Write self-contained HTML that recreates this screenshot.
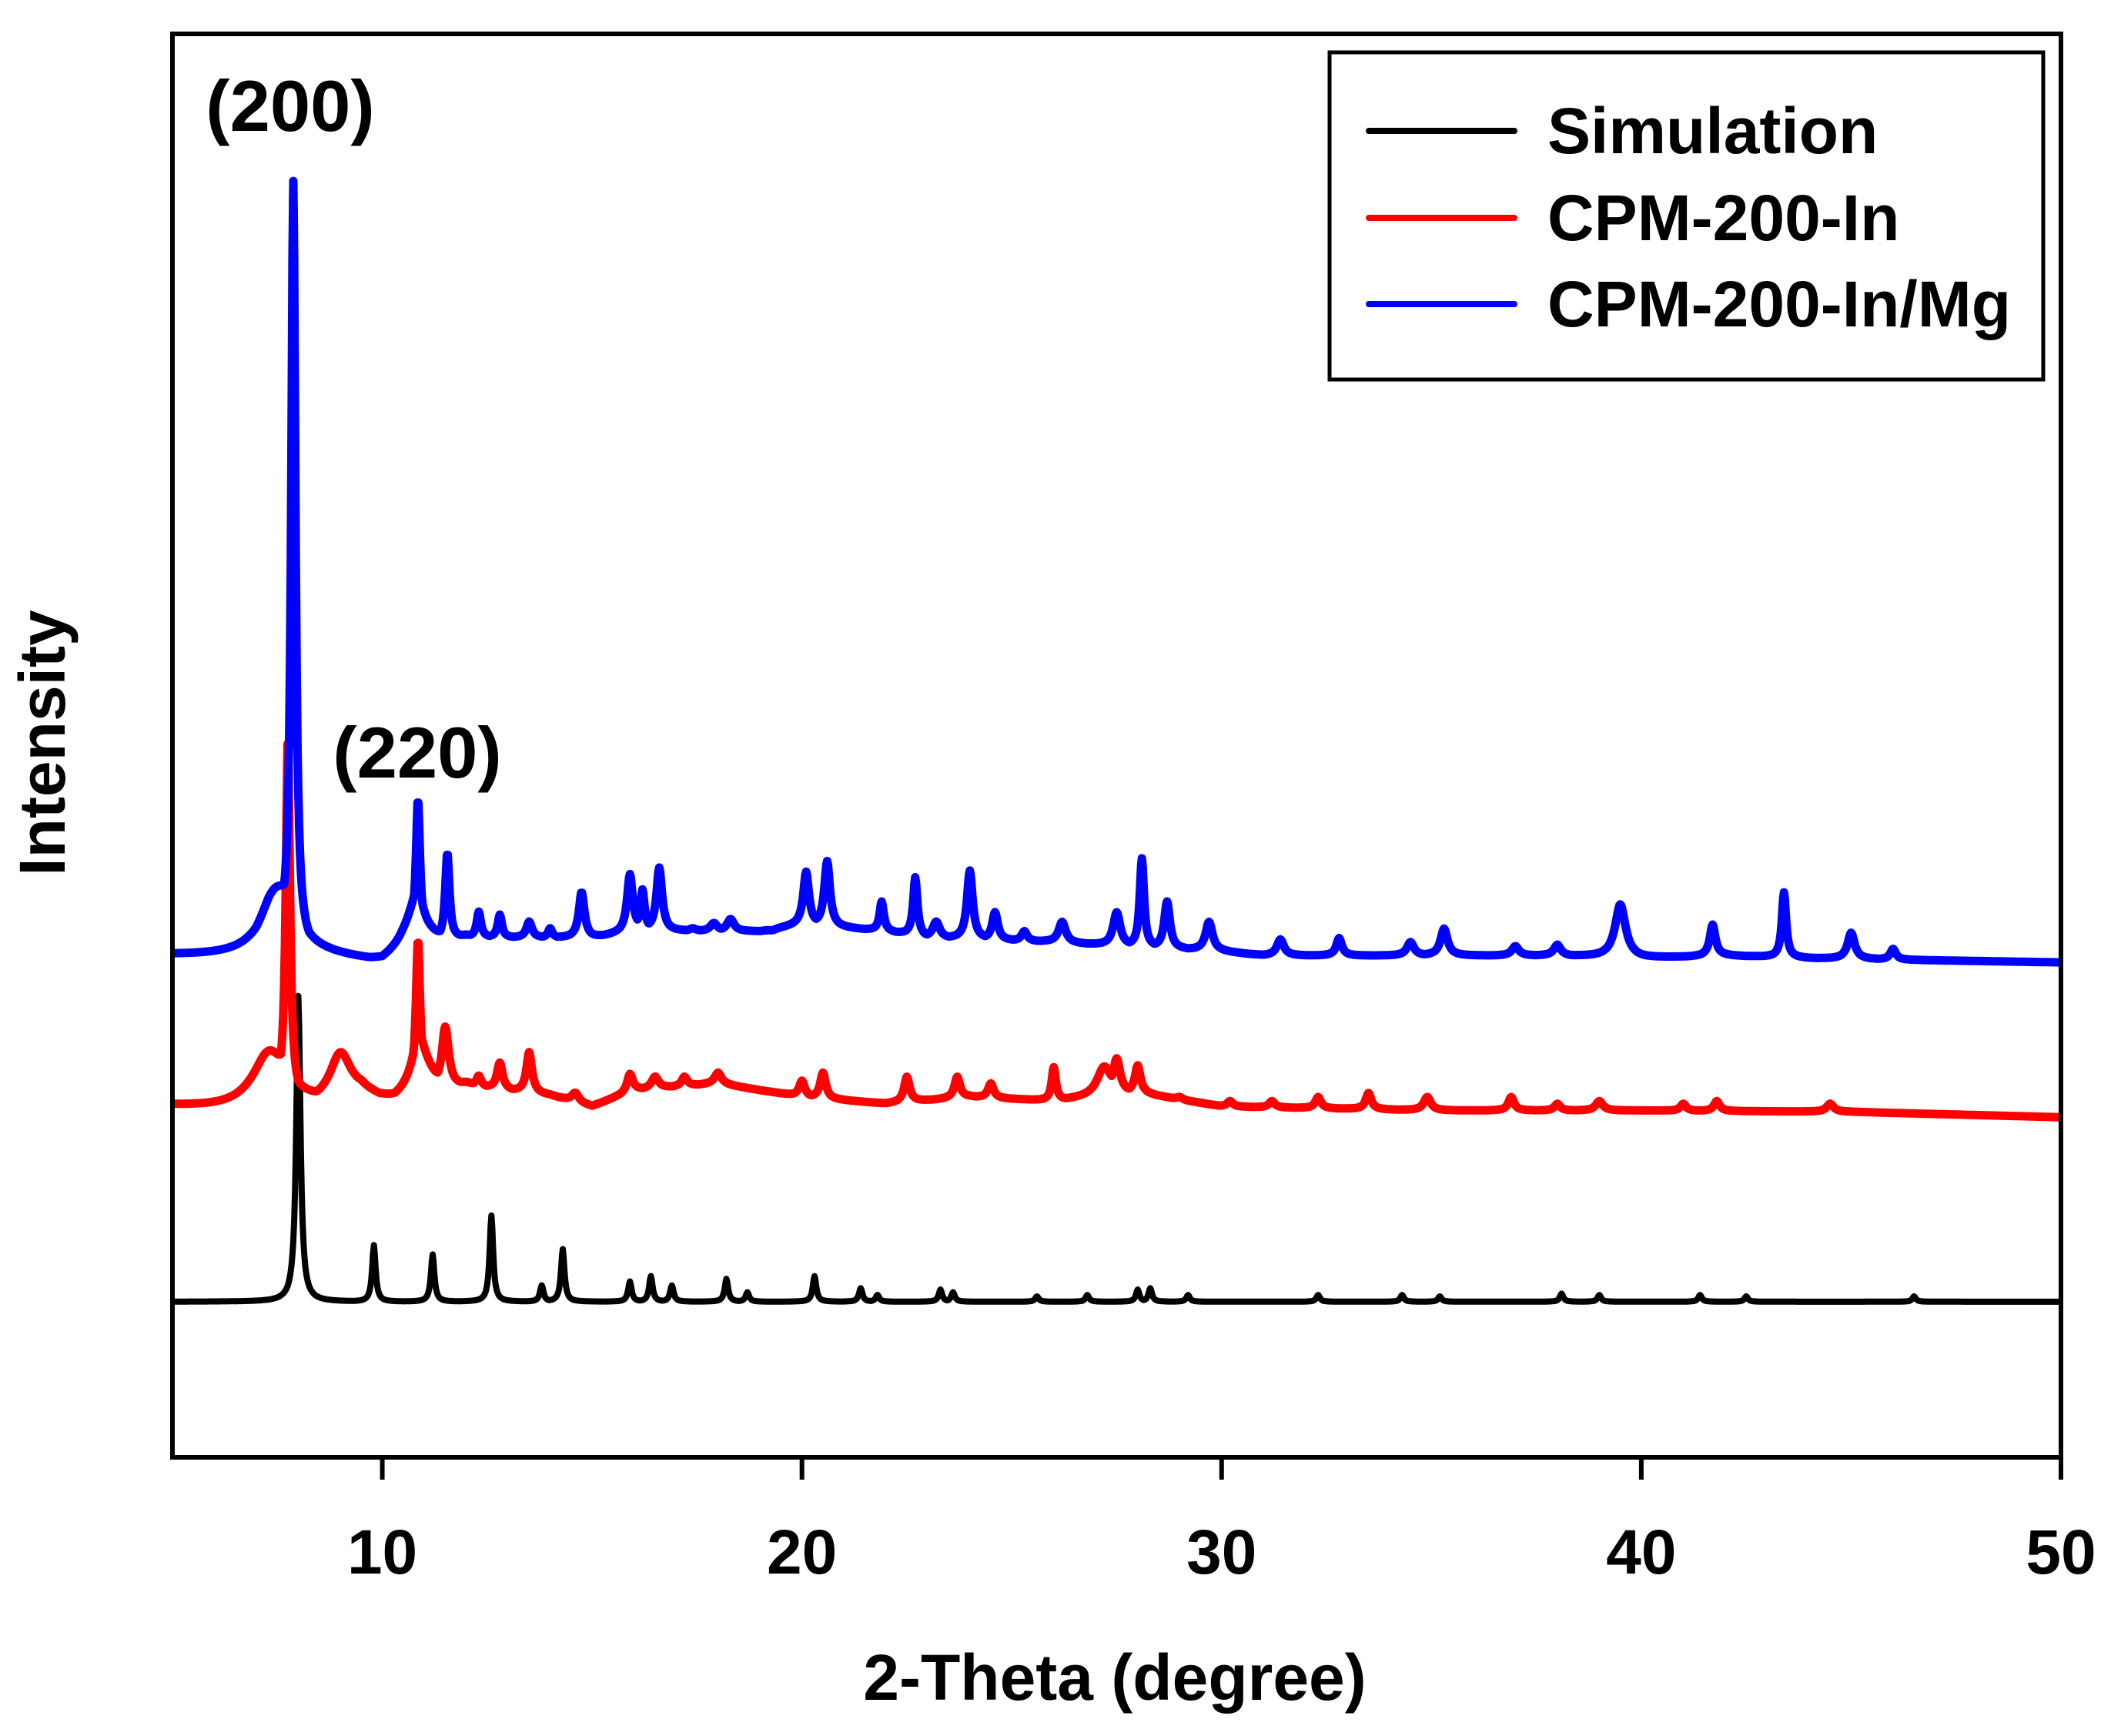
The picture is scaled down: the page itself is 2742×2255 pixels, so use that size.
<!DOCTYPE html>
<html><head><meta charset="utf-8"><style>
html,body{margin:0;padding:0;background:#fff;}
svg{display:block;}
text{font-family:"Liberation Sans",Arial,sans-serif;font-weight:bold;fill:#000;}
</style></head><body>
<svg id="chart" width="2742" height="2255" viewBox="0 0 2742 2255" xmlns="http://www.w3.org/2000/svg">
<rect x="0" y="0" width="2742" height="2255" fill="#fff"/>
<g id="series"></g>
<rect x="224" y="44" width="2453" height="1849" fill="none" stroke="#000" stroke-width="6"/>
<g id="ticks"></g>
<text x="1448" y="2208" font-size="84" text-anchor="middle">2-Theta (degree)</text>
<text x="0" y="0" font-size="84" text-anchor="middle" transform="translate(84,965) rotate(-90)">Intensity</text>
<text x="377" y="170" font-size="94" text-anchor="middle">(200)</text>
<text x="542" y="1010" font-size="94" text-anchor="middle">(220)</text>
<g>
<rect x="1727" y="68" width="927" height="425" fill="#fff" stroke="#000" stroke-width="5"/>
<line x1="1778" y1="170" x2="1967" y2="170" stroke="#000" stroke-width="8" stroke-linecap="round"/>
<text x="2010" y="199" font-size="84">Simulation</text>
<line x1="1778" y1="283" x2="1967" y2="283" stroke="#f00" stroke-width="8" stroke-linecap="round"/>
<text x="2010" y="312" font-size="84">CPM-200-In</text>
<line x1="1778" y1="395" x2="1967" y2="395" stroke="#00f" stroke-width="8" stroke-linecap="round"/>
<text x="2010" y="424" font-size="84">CPM-200-In/Mg</text>
</g>
</svg>
<script>
// x tick data
const xTicks = [10, 20, 30, 40, 50];
// Simulation: baseline knots and peaks [position, top intensity, half width]
const simBaseX = [5, 50];
const simBaseY = [115, 115];
const simPeakPos = [8.0, 9.8, 11.2, 12.6, 13.8, 14.3, 15.9, 16.4, 16.9, 18.2, 18.7, 20.3, 21.4, 21.8, 23.3, 23.6, 25.6, 26.8, 28.0, 28.3, 29.2, 32.3, 34.3, 35.2, 38.1, 39.0, 41.4, 42.5, 46.5];
const simPeakTop = [342, 157, 150, 179, 127, 154, 130, 134, 127, 132, 122, 134, 125, 120, 124, 122, 119, 120, 124, 125, 120, 120, 120, 119, 121, 120, 120, 119, 119];
const simPeakW = [0.06, 0.05, 0.05, 0.05, 0.05, 0.05, 0.05, 0.05, 0.05, 0.05, 0.05, 0.05, 0.05, 0.05, 0.05, 0.05, 0.05, 0.05, 0.05, 0.05, 0.05, 0.05, 0.05, 0.05, 0.05, 0.05, 0.05, 0.05, 0.05];
// CPM-200-In (red)
const inBaseX = [5, 7, 8.5, 9.5, 10.3, 12, 14, 15, 16, 18, 20, 22, 24, 26, 28, 30, 35, 40, 45, 50];
const inBaseY = [260, 256, 262, 270, 262, 275, 268, 260, 272, 277, 267, 262, 267, 264, 270, 260, 257, 257, 256, 252];
const inPeakPos = [7.3, 7.75, 9.0, 10.85, 10.9, 11.5, 12.3, 12.8, 13.5, 14.6, 15.9, 16.5, 17.2, 18.0, 20.0, 20.5, 22.5, 23.7, 24.5, 26.0, 27.2, 27.5, 28.0, 29.0, 30.2, 31.2, 32.3, 33.5, 34.9, 36.9, 38.0, 39.0, 41.0, 41.8, 44.5];
const inPeakTop = [300, 530, 299, 375, 302, 317, 282, 292, 300, 270, 284, 282, 282, 285, 279, 285, 282, 282, 277, 289, 289, 294, 290, 267, 264, 264, 267, 270, 267, 267, 262, 264, 262, 264, 262];
const inPeakW = [0.5, 0.06, 0.3, 0.06, 0.3, 0.1, 0.07, 0.08, 0.08, 0.1, 0.08, 0.1, 0.08, 0.1, 0.08, 0.08, 0.08, 0.08, 0.08, 0.06, 0.2, 0.1, 0.08, 0.08, 0.08, 0.08, 0.08, 0.08, 0.1, 0.08, 0.08, 0.1, 0.08, 0.08, 0.1];
// CPM-200-In/Mg (blue)
const mgBaseX = [5, 7, 7.3, 9, 10, 10.5, 12, 15, 16, 18, 19, 20, 22, 23, 26, 27, 30, 31, 38, 40, 42, 44, 50];
const mgBaseY = [372, 370, 375, 370, 367, 375, 385, 385, 390, 390, 390, 395, 390, 385, 382, 380, 375, 372, 372, 370, 372, 370, 367];
const mgPeakPos = [7.5, 7.88, 10.85, 10.8, 11.55, 12.3, 12.8, 13.5, 14.0, 14.75, 15.9, 16.2, 16.6, 17.4, 17.9, 18.3, 19.3, 20.1, 20.6, 21.9, 22.7, 23.2, 24.0, 24.6, 25.3, 26.2, 27.5, 28.1, 28.7, 29.7, 31.4, 32.8, 34.5, 35.3, 37.0, 38.0, 39.5, 41.7, 43.4, 45.0, 46.0];
const mgPeakTop = [420, 940, 480, 410, 447, 404, 402, 397, 392, 419, 432, 420, 437, 392, 396, 399, 387, 434, 442, 412, 430, 397, 435, 404, 390, 397, 404, 444, 412, 397, 384, 385, 382, 392, 379, 380, 410, 395, 419, 389, 377];
const mgPeakW = [0.5, 0.06, 0.06, 0.3, 0.06, 0.06, 0.06, 0.08, 0.06, 0.08, 0.08, 0.06, 0.08, 0.1, 0.1, 0.1, 0.1, 0.08, 0.08, 0.06, 0.06, 0.1, 0.08, 0.08, 0.08, 0.1, 0.1, 0.06, 0.08, 0.1, 0.1, 0.08, 0.1, 0.1, 0.1, 0.1, 0.15, 0.08, 0.06, 0.1, 0.08];

const X0 = 224, X1 = 2677, Y0 = 1892;
function xScale(v){ return X0 + (v - 5) / 45 * (X1 - X0); }
function yScale(v){ return Y0 - v * 1.749; }
function baseAt(bx, by, x){
  for (let i = 0; i < bx.length - 1; i++) {
    if (x >= bx[i] && x <= bx[i+1]) return by[i] + (by[i+1]-by[i]) * (x-bx[i]) / (bx[i+1]-bx[i]);
  }
  return by[by.length-1];
}
const NS = 'http://www.w3.org/2000/svg';
function drawSeries(name, color, width, bx, by, pp, pt, pw){
  const pts = [];
  for (let k = 0; k <= 2250; k++) {
    const x = 5 + k * 0.02;
    const b = baseAt(bx, by, x);
    let add = 0, sum = 0;
    for (let i = 0; i < pp.length; i++) {
      const h = pt[i] - baseAt(bx, by, pp[i]);
      const d = (x - pp[i]) / pw[i];
      const c = h / (1 + d * d);
      if (c > add) add = c;
      sum += c;
    }
    const y = b + add + 0.25 * (sum - add);
    pts.push(xScale(x).toFixed(1) + ',' + yScale(y).toFixed(1));
  }
  const pl = document.createElementNS(NS, 'polyline');
  pl.setAttribute('points', pts.join(' '));
  pl.setAttribute('fill', 'none');
  pl.setAttribute('stroke', color);
  pl.setAttribute('stroke-width', width);
  pl.setAttribute('stroke-linejoin', 'round');
  
  
  document.getElementById('series').appendChild(pl);
}
drawSeries('series-simulation', '#000', 8, simBaseX, simBaseY, simPeakPos, simPeakTop, simPeakW);
drawSeries('series-cpm-200-in', '#f00', 11, inBaseX, inBaseY, inPeakPos, inPeakTop, inPeakW);
drawSeries('series-cpm-200-in-mg', '#00f', 11, mgBaseX, mgBaseY, mgPeakPos, mgPeakTop, mgPeakW);

const tg = document.getElementById('ticks');
xTicks.forEach(t => {
  const ln = document.createElementNS(NS, 'line');
  ln.setAttribute('x1', xScale(t)); ln.setAttribute('x2', xScale(t));
  ln.setAttribute('y1', 1892); ln.setAttribute('y2', 1922);
  ln.setAttribute('stroke', '#000'); ln.setAttribute('stroke-width', 6);
  
  
  tg.appendChild(ln);
  const tx = document.createElementNS(NS, 'text');
  tx.setAttribute('x', xScale(t)); tx.setAttribute('y', 2044);
  tx.setAttribute('font-size', 82); tx.setAttribute('text-anchor', 'middle');
  tx.textContent = String(t);
  
  
  tg.appendChild(tx);
});
</script>
</body></html>
